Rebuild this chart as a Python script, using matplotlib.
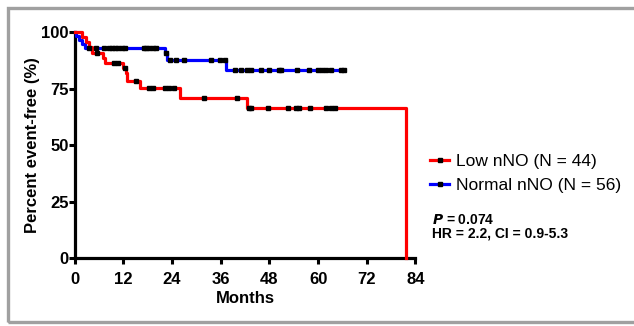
import matplotlib.pyplot as plt
import matplotlib.patches as patches
from matplotlib.lines import Line2D

plt.rcParams['font.family'] = ['Liberation Sans', 'DejaVu Sans']

# Kaplan-Meier steps (month, percent event-free)
low_t = [0, 1.7, 2.8, 3.5, 4.2, 7.0, 7.5, 11.8, 12.6, 13.0, 16.2, 26.0, 42.4, 81.6]
low_s = [100, 97.7, 95.5, 93.2, 90.9, 88.6, 86.3, 84.0, 81.7, 78.5, 75.1, 70.7, 66.3, 0]
low_cens = [5.6, 9.8, 10.8, 12.3, 15.2, 18.2, 19.4, 22.2, 23.2, 24.6, 31.9, 40.0,
            42.9, 43.4, 47.6, 52.6, 54.6, 55.4, 57.9, 62.0, 63.1, 64.1]

norm_t = [0, 0.4, 1.0, 1.7, 2.6, 22.2, 22.8, 37.2, 66.5]
norm_s = [100, 98.2, 96.4, 94.6, 92.9, 90.6, 87.6, 83.4, 83.4]
norm_cens = [3.6, 5.3, 7.2, 8.5, 9.2, 10.0, 10.8, 11.6, 12.3, 17.0, 17.6, 18.4, 19.2,
             20.0, 22.6, 23.4, 25.0, 26.9, 33.5, 35.7, 37.0, 39.6, 40.9, 42.5, 43.5,
             46.0, 47.8, 50.3, 50.9, 54.8, 57.7, 60.0, 60.9, 62.0, 63.1, 65.7, 66.5]

labels = ['Low nNO (N = 44)', 'Normal nNO (N = 56)']
colors = ['#ff0000', '#0000ff']
x_ticks = [0, 12, 24, 36, 48, 60, 72, 84]
y_ticks = [0, 25, 50, 75, 100]


def surv_at(ts, ss, t):
    val = ss[0]
    for ti, si in zip(ts, ss):
        if ti <= t:
            val = si
    return val


fig = plt.figure(figsize=(6.34, 3.26), dpi=100)
ax = fig.add_axes([0.1178, 0.2077, 0.5375, 0.6942])

for ts, ss, cens, col in [(norm_t, norm_s, norm_cens, colors[1]),
                          (low_t, low_s, low_cens, colors[0])]:
    ax.step(ts, ss, where='post', color=col, lw=2.3, clip_on=False, zorder=3)
    ax.plot(cens, [surv_at(ts, ss, c) for c in cens], 's', color='black',
            ms=2.6, clip_on=False, zorder=4)

ax.set_xlim(0, 84)
ax.set_ylim(0, 100)
ax.set_xticks(x_ticks)
ax.set_yticks(y_ticks)
for s in ['top', 'right']:
    ax.spines[s].set_visible(False)
for s in ['left', 'bottom']:
    ax.spines[s].set_linewidth(2.3)
ax.tick_params(width=2.2, length=4, labelsize=12)
ax.tick_params(axis='x', pad=6)
ax.tick_params(axis='y', pad=0.5)
for lab in ax.get_xticklabels() + ax.get_yticklabels():
    lab.set_fontweight('bold')
ax.set_xlabel('Months', fontsize=12, fontweight='bold', labelpad=3)
ax.set_ylabel('Percent event-free (%)', fontsize=12, fontweight='bold', labelpad=0.5)

handles = [Line2D([], [], color=c, lw=2.3, marker='s', ms=2.6,
                  markerfacecolor='black', markeredgecolor='black') for c in colors]
fig.legend(handles, labels, loc='upper left', bbox_to_anchor=(0.668, 0.548),
           frameon=False, fontsize=12.5, handlelength=1.05, handletextpad=0.4,
           labelspacing=0.5, borderaxespad=0)

fig.text(0.681, 0.313, r'$\boldsymbol{P}$ = 0.074', fontsize=10, fontweight='bold')
fig.text(0.681, 0.271, 'HR = 2.2, CI = 0.9-5.3', fontsize=10, fontweight='bold')

# grey frame around the panel
fig.add_artist(patches.Rectangle((0.0125, 0.012), 1.2, 0.962, transform=fig.transFigure,
                                 fill=False, edgecolor='#a0a0a0', lw=2.4))

fig.savefig('out.png', dpi=100)
